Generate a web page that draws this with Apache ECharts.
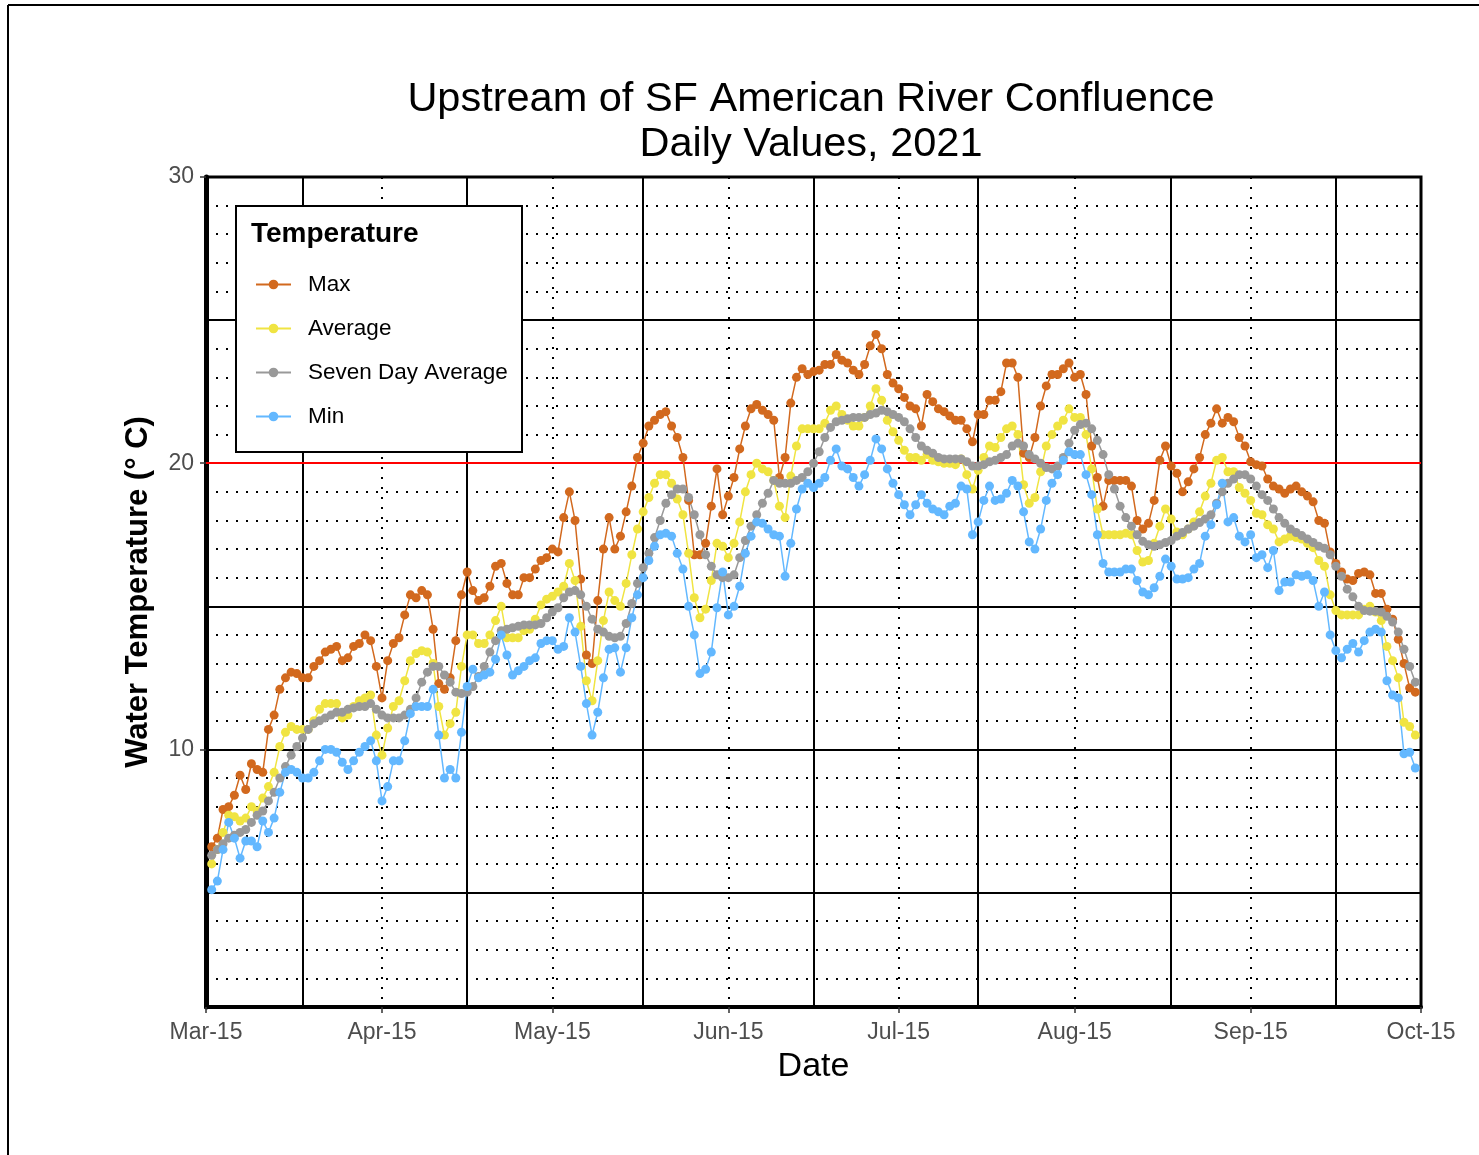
<!DOCTYPE html>
<html>
<head>
<meta charset="utf-8">
<title>Upstream of SF American River Confluence</title>
<script src="https://cdn.jsdelivr.net/npm/echarts@6/dist/echarts.min.js"></script>
<style>
  html, body { margin: 0; padding: 0; background: #fff; }
  #chart { width: 1479px; height: 1155px; }
</style>
</head>
<body>
<div id="chart"></div>
<script>
(function() {
  // --- data (one value per day, 16 Mar .. 14 Oct 2021) ---
  var firstDay = '2021-03-15';
  var lastDay = '2021-10-15';
  var monthNames = ['Jan', 'Feb', 'Mar', 'Apr', 'May', 'Jun', 'Jul', 'Aug', 'Sep', 'Oct', 'Nov', 'Dec'];
  var seriesNames = ['Max', 'Average', 'Seven Day Average', 'Min'];
  var yTickValues = [10, 20, 30];
  var solidLevels = [5, 10, 15, 25];
  var thresholdLevel = 20;
  var minorBreakIdx = [17, 46, 77, 107, 136, 170, 199];

  var maxTemp = [
    6.6, 6.9, 7.9, 8.0, 8.4, 9.1, 8.6, 9.5, 9.3, 9.2,
    10.7, 11.2, 12.1, 12.5, 12.7, 12.65, 12.5, 12.5, 12.9, 13.1,
    13.4, 13.5, 13.6, 13.1, 13.2, 13.6, 13.7, 14.0, 13.8, 12.9,
    11.8, 13.1, 13.7, 13.9, 14.7, 15.4, 15.3, 15.55, 15.4, 14.2,
    12.3, 12.1, 12.5, 13.8, 15.4, 16.2, 15.55, 15.2, 15.3, 15.7,
    16.4, 16.5, 15.8, 15.4, 15.4, 16.0, 16.0, 16.3, 16.6, 16.7,
    17.0, 16.9, 18.1, 19.0, 18.0, 15.95, 13.3, 13.0, 15.2, 17.0,
    18.1, 17.0, 17.45, 18.3, 19.2, 20.2, 20.7, 21.3, 21.5, 21.7,
    21.8, 21.3, 20.9, 20.2, 18.7, 16.8, 16.8, 17.2, 18.5, 19.8,
    18.2, 18.85, 19.5, 20.5, 21.3, 21.9, 22.05, 21.85, 21.7, 21.5,
    19.5, 20.2, 22.1, 23.0, 23.3, 23.1, 23.2, 23.25, 23.45, 23.45,
    23.8, 23.6, 23.5, 23.25, 23.1, 23.45, 24.1, 24.5, 24.0, 23.1,
    22.8, 22.6, 22.3, 22.0, 21.9, 21.3, 22.4, 22.15, 21.9, 21.8,
    21.65, 21.5, 21.5, 21.2, 20.75, 21.7, 21.7, 22.2, 22.2, 22.5,
    23.5, 23.5, 23.0, 20.35, 20.2, 20.9, 22.0, 22.7, 23.1, 23.1,
    23.3, 23.5, 23.0, 23.1, 22.4, 20.6, 19.5, 18.5, 19.4, 19.4,
    19.4, 19.4, 19.2, 18.0, 17.7, 17.9, 18.7, 20.1, 20.6, 19.9,
    19.65, 19.0, 19.35, 19.8, 20.2, 21.0, 21.4, 21.9, 21.4, 21.6,
    21.45, 20.9, 20.6, 20.05, 19.95, 19.9, 19.45, 19.2, 19.1, 18.95,
    19.1, 19.2, 19.0, 18.85, 18.65, 18.0, 17.9, 16.9, 16.5, 16.2,
    15.95, 15.9, 16.15, 16.2, 16.1, 15.45, 15.45, 14.9, 14.55, 13.85,
    13.0, 12.15, 12.0
  ];
  var avgTemp = [
    6.0, 6.5, 7.1, 7.7, 7.65, 7.5, 7.6, 8.0, 7.85, 8.3,
    8.7, 9.2, 10.1, 10.6, 10.8, 10.7, 10.7, 10.7, 11.0, 11.4,
    11.6, 11.6, 11.6, 11.1, 11.2, 11.5, 11.7, 11.8, 11.9, 10.5,
    9.8, 10.75, 11.5, 11.7, 12.4, 13.1, 13.35, 13.45, 13.4, 13.0,
    11.5, 10.5, 10.9, 11.3, 12.9, 14.0, 14.0, 13.7, 13.7, 14.0,
    14.5, 15.0, 13.9, 13.9, 13.9, 14.15, 14.2, 14.55, 15.05, 15.25,
    15.35, 15.5, 15.7, 16.5, 15.9, 14.3, 12.4, 11.7, 13.1, 14.5,
    15.5, 15.2, 15.0, 15.8, 16.8, 17.7, 18.3, 18.8, 19.3, 19.6,
    19.6, 19.3, 18.75, 18.2, 16.85, 15.3, 14.6, 14.9, 15.9, 17.2,
    17.1, 16.7, 17.2, 17.95, 19.0, 19.6, 20.0, 19.8, 19.7, 19.4,
    18.5, 18.1, 19.55, 20.6, 21.2, 21.2, 21.2, 21.2, 21.4, 21.85,
    22.0, 21.7, 21.5, 21.3, 21.3, 21.6, 22.0, 22.6, 22.2, 21.5,
    21.1, 20.8, 20.45, 20.2, 20.2, 20.1, 20.3, 20.1, 20.05, 20.0,
    20.0, 19.95, 20.15, 19.6, 19.1, 19.75, 20.2, 20.6, 20.55, 20.9,
    21.2, 21.3, 21.0, 19.25, 18.6, 18.8, 19.7, 20.6, 21.0, 21.3,
    21.5, 21.9, 21.6, 21.6, 21.0, 19.8, 18.4, 17.5, 17.5, 17.5,
    17.5, 17.55, 17.5, 16.95, 16.55, 16.6, 17.2, 17.8, 18.4, 18.05,
    17.6, 17.5, 17.7, 17.95, 18.3, 18.85, 19.3, 20.1, 20.2, 19.7,
    19.7, 19.15, 18.95, 18.7, 18.25, 18.2, 17.85, 17.7, 17.25, 17.35,
    17.45, 17.4, 17.35, 17.2, 17.05, 16.6, 16.4, 15.4, 14.85, 14.7,
    14.7, 14.7, 14.7, 14.9, 15.0, 14.8, 14.5, 13.6, 13.1, 12.5,
    10.95, 10.8, 10.5
  ];
  var weekAvgTemp = [
    6.3, 6.5, 6.7, 6.9, 7.0, 7.1, 7.2, 7.45, 7.7, 7.85,
    8.2, 8.5, 9.0, 9.4, 9.8, 10.1, 10.4, 10.7, 10.9, 11.0,
    11.1, 11.2, 11.3, 11.3, 11.4, 11.45, 11.5, 11.5, 11.6, 11.4,
    11.2, 11.1, 11.1, 11.1, 11.2, 11.4, 11.8, 12.35, 12.7, 12.9,
    12.9, 12.6, 12.35, 12.0, 11.95, 12.0, 12.2, 12.55, 12.9, 13.4,
    13.8, 14.15, 14.2, 14.25, 14.3, 14.35, 14.35, 14.35, 14.4, 14.6,
    14.8, 14.95, 15.3, 15.5, 15.55, 15.4, 15.0, 14.55, 14.2, 14.1,
    13.95, 13.9, 13.95, 14.4, 15.1, 15.8, 16.35, 16.85, 17.4, 18.0,
    18.6, 18.9, 19.1, 19.1, 18.8, 18.2, 17.5, 16.8, 16.4, 16.1,
    16.0, 16.0, 16.1, 16.7, 17.3, 17.8, 18.2, 18.6, 18.95, 19.4,
    19.3, 19.3, 19.3, 19.4, 19.5, 19.7, 20.0, 20.4, 20.9, 21.25,
    21.45, 21.5, 21.55, 21.6, 21.6, 21.6, 21.7, 21.75, 21.85, 21.8,
    21.7, 21.6, 21.45, 21.2, 20.9, 20.6, 20.45, 20.35, 20.2, 20.15,
    20.15, 20.15, 20.15, 20.05, 19.9, 19.9, 19.95, 20.05, 20.1, 20.2,
    20.3, 20.6, 20.7, 20.6, 20.3, 20.15, 20.0, 19.85, 19.8, 19.9,
    20.2, 20.7, 21.15, 21.35, 21.4, 21.2, 20.8, 20.3, 19.6, 19.1,
    18.5, 18.1, 17.8, 17.5, 17.27, 17.15, 17.1, 17.15, 17.23, 17.3,
    17.45, 17.58, 17.7, 17.8, 17.93, 18.05, 18.2, 18.6, 19.0, 19.3,
    19.45, 19.6, 19.6, 19.45, 19.2, 18.9, 18.7, 18.4, 18.1, 17.9,
    17.7, 17.58, 17.47, 17.35, 17.23, 17.1, 17.03, 16.8, 16.4, 16.05,
    15.6, 15.33, 15.0, 14.85, 14.83, 14.83, 14.8, 14.65, 14.45, 14.1,
    13.5, 12.9, 12.35
  ];
  var minTemp = [
    5.1, 5.4, 6.5, 7.45, 6.9, 6.2, 6.8, 6.8, 6.6, 7.5,
    7.1, 7.6, 8.5, 9.2, 9.3, 9.2, 9.0, 9.0, 9.2, 9.6,
    10.0, 10.0, 9.9, 9.55, 9.3, 9.6, 9.9, 10.1, 10.3, 9.6,
    8.2, 8.7, 9.6, 9.6, 10.3, 11.25, 11.5, 11.5, 11.5, 12.1,
    10.5, 9.0, 9.3, 9.0, 10.6, 12.2, 12.8, 12.5, 12.6, 12.7,
    13.15, 14.0, 13.3, 12.6, 12.75, 12.9, 13.1, 13.2, 13.7, 13.8,
    13.8, 13.5, 13.6, 14.6, 14.1, 12.9, 11.6, 10.5, 11.3, 12.5,
    13.5, 13.55, 12.7, 13.55, 14.6, 15.4, 16.0, 16.6, 17.1, 17.5,
    17.55, 17.45, 16.85, 16.3, 15.0, 14.0, 12.65, 12.8, 13.4, 14.95,
    16.2, 14.7, 15.0, 15.7, 16.85, 17.45, 17.95, 17.9, 17.7, 17.5,
    17.45, 16.05, 17.2, 18.4, 19.1, 19.3, 19.15, 19.3, 19.5, 20.1,
    20.5, 19.9, 19.8, 19.5, 19.2, 19.6, 20.1, 20.85, 20.5, 19.8,
    19.3, 18.9, 18.55, 18.2, 18.55, 18.9, 18.6, 18.4, 18.3, 18.2,
    18.5, 18.6, 19.2, 19.1, 17.5, 17.95, 18.7, 19.2, 18.7, 18.75,
    18.95, 19.4, 19.2, 18.3, 17.25, 17.0, 17.7, 18.7, 19.3, 19.6,
    20.1, 20.4, 20.3, 20.3, 19.6, 18.9, 17.5, 16.5, 16.2, 16.2,
    16.2, 16.3, 16.3, 15.9, 15.5, 15.4, 15.65, 16.05, 16.65, 16.4,
    15.95, 15.95, 16.0, 16.3, 16.5, 17.45, 17.85, 18.55, 19.3, 17.95,
    18.1, 17.45, 17.25, 17.5, 16.7, 16.8, 16.35, 16.95, 15.55, 15.85,
    15.85, 16.1, 16.05, 16.1, 15.9, 15.0, 15.5, 14.0, 13.45, 13.2,
    13.5, 13.7, 13.4, 13.8, 14.1, 14.2, 14.1, 12.4, 11.9, 11.8,
    9.85, 9.9, 9.35
  ];

  var colors = ['#D2691E', '#F0E442', '#999999', '#63B8FF'];
  var font = '"Liberation Sans", Arial, sans-serif';

  // one category per calendar day
  var categories = [];
  var day = new Date(firstDay + 'T00:00:00Z');
  var stop = new Date(lastDay + 'T00:00:00Z');
  while (day <= stop) {
    categories.push(monthNames[day.getUTCMonth()] + '-' + day.getUTCDate());
    day.setUTCDate(day.getUTCDate() + 1);
  }
  function isMajor(idx) { return /-15$/.test(categories[idx]); }
  function isMinor(idx) { return minorBreakIdx.indexOf(idx) >= 0; }

  var dotted = { color: '#000', width: 2, type: [2, 8] };

  function makeSeries(name, values, color, extra) {
    var s = {
      name: name,
      type: 'line',
      data: [null].concat(values),
      symbol: 'circle',
      symbolSize: 9,
      showSymbol: true,
      showAllSymbol: true,
      lineStyle: { color: color, width: 1.5 },
      itemStyle: { color: color },
      emphasis: { disabled: true },
      z: 3
    };
    for (var k in extra) s[k] = extra[k];
    return s;
  }

  var lineLevels = solidLevels.map(function(v) { return { yAxis: v }; });
  lineLevels.push({ yAxis: thresholdLevel, lineStyle: { color: '#FF0000', width: 2, type: 'solid' } });

  var chart = echarts.init(document.getElementById('chart'), null, { renderer: 'canvas' });
  chart.setOption({
    animation: false,
    backgroundColor: '#fff',
    textStyle: { fontFamily: font },
    title: {
      text: 'Upstream of SF American River Confluence\nDaily Values, 2021',
      left: 806,
      top: 72,
      textAlign: 'center',
      textStyle: { fontFamily: font, fontSize: 41.5, fontWeight: 'normal', color: '#000', lineHeight: 45 }
    },
    grid: {
      left: 206, right: 58, top: 177, bottom: 148,
      outerBoundsMode: 'none',
      containLabel: false,
      show: true, borderColor: '#000', borderWidth: 3, backgroundColor: '#fff'
    },
    legend: {
      data: seriesNames,
      orient: 'vertical',
      left: 250,
      top: 268,
      itemWidth: 35,
      itemHeight: 12,
      itemGap: 21,
      z: 60,
      textStyle: { fontFamily: font, fontSize: 22.5, color: '#000', padding: [0, 0, 0, 12] }
    },
    xAxis: [{
      type: 'category',
      data: categories,
      boundaryGap: false,
      position: 'bottom',
      axisLine: { lineStyle: { color: '#000', width: 4 } },
      axisTick: { interval: isMajor, length: 6, lineStyle: { color: '#333', width: 1.5 } },
      axisLabel: { interval: isMajor, fontFamily: font, fontSize: 23, color: '#4D4D4D', margin: 14 },
      splitLine: { show: true, interval: isMajor, lineStyle: dotted },
      name: 'Date',
      nameLocation: 'middle',
      nameGap: 43,
      nameTextStyle: { fontFamily: font, fontSize: 34, color: '#000' }
    }, {
      type: 'category',
      data: categories,
      boundaryGap: false,
      position: 'bottom',
      axisLine: { show: false },
      axisTick: { show: false },
      axisLabel: { show: false },
      splitLine: { show: true, interval: isMinor, lineStyle: { color: '#000', width: 2 } }
    }],
    yAxis: [{
      type: 'value',
      position: 'left',
      min: 1,
      max: 30,
      interval: 1,
      axisLine: { show: false },
      axisTick: { show: false },
      axisLabel: { show: false },
      splitLine: { show: true, lineStyle: dotted }
    }, {
      type: 'value',
      position: 'left',
      offset: 0,
      min: 1,
      max: 30,
      axisLine: { show: true, lineStyle: { color: '#000', width: 5 } },
      axisTick: { show: true, customValues: yTickValues, length: 6, lineStyle: { color: '#333', width: 1.5 } },
      axisLabel: { customValues: yTickValues, fontFamily: font, fontSize: 23, color: '#4D4D4D', margin: 12 },
      splitLine: { show: false },
      name: 'Water Temperature (° C)',
      nameLocation: 'middle',
      nameGap: 52,
      nameTextStyle: { fontFamily: font, fontSize: 31, fontWeight: 'bold', color: '#000' }
    }],
    graphic: [
      { type: 'line', z: 100, shape: { x1: 8, y1: 5, x2: 1479, y2: 5 }, style: { stroke: '#000', lineWidth: 2 } },
      { type: 'line', z: 100, shape: { x1: 8, y1: 5, x2: 8, y2: 1155 }, style: { stroke: '#000', lineWidth: 2 } },
      { type: 'rect', z: 50, shape: { x: 236, y: 206, width: 286, height: 246 },
        style: { fill: '#fff', stroke: '#000', lineWidth: 2 } },
      { type: 'text', z: 61, x: 251, y: 234,
        style: { text: 'Temperature', fill: '#000', font: 'bold 28px ' + font, textVerticalAlign: 'middle' } }
    ],
    series: [
      makeSeries(seriesNames[0], maxTemp, colors[0], {
        markLine: {
          silent: true,
          z: 1,
          symbol: ['none', 'none'],
          label: { show: false },
          lineStyle: { color: '#000', width: 2, type: 'solid' },
          emphasis: { disabled: true },
          data: lineLevels
        }
      }),
      makeSeries(seriesNames[1], avgTemp, colors[1]),
      makeSeries(seriesNames[2], weekAvgTemp, colors[2]),
      makeSeries(seriesNames[3], minTemp, colors[3])
    ]
  });
  window.addEventListener('resize', function() { chart.resize(); });
})();
</script>
</body>
</html>
